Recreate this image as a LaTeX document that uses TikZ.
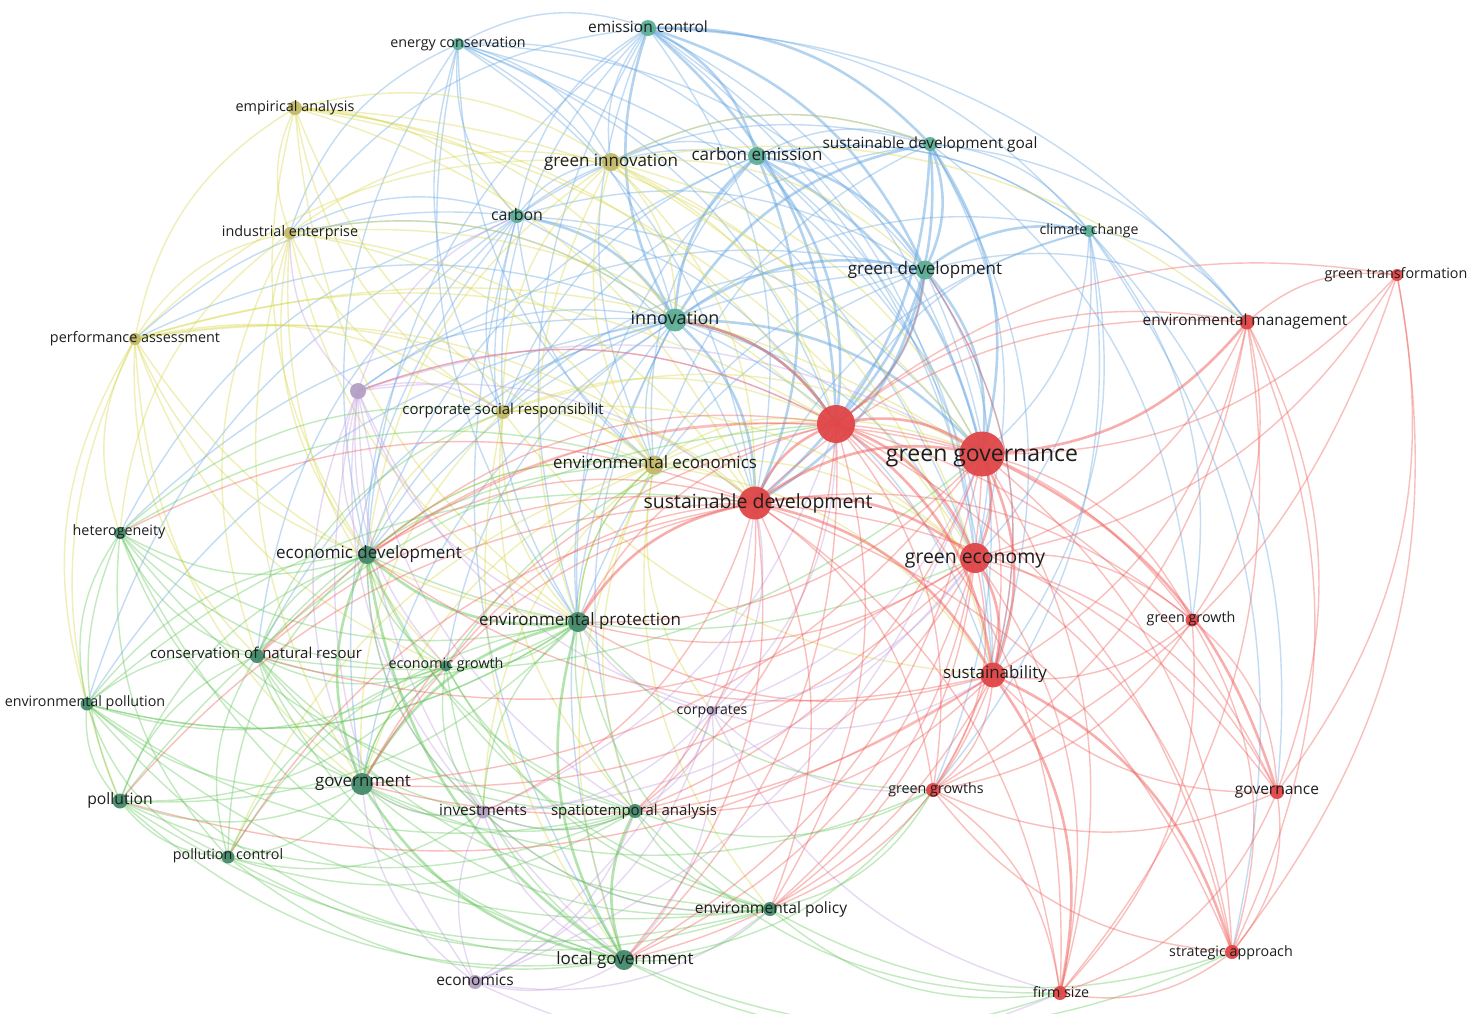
\documentclass[tikz,border=0pt]{standalone}
\usepackage{fontspec}
\setmainfont{Open Sans}
\usetikzlibrary{calc}
\pgfdeclarelayer{bg}
\pgfdeclarelayer{edges}
\pgfsetlayers{bg,edges,main}
\definecolor{nR}{RGB}{224,70,72}
\definecolor{nG}{RGB}{68,138,108}
\definecolor{nB}{RGB}{92,175,150}
\definecolor{nY}{RGB}{195,185,105}
\definecolor{nP}{RGB}{180,160,195}
\definecolor{cR}{RGB}{240,95,90}
\definecolor{cG}{RGB}{105,200,95}
\definecolor{cB}{RGB}{105,168,225}
\definecolor{cY}{RGB}{215,215,75}
\definecolor{cP}{RGB}{195,160,225}
\definecolor{txt}{RGB}{30,30,30}
\newcommand\vedge[3]{%
  \draw[#1] let \p1=(#2.center), \p2=(#3.center), \p3=(ctr),
    \n1={((\x2-\x1)/100)*(((\y1+\y2)/2-\y3)/100)-((\y2-\y1)/100)*(((\x1+\x2)/2-\x3)/100)},
    \n2={ifthenelse(\n1>0,24,-24)} in
    (\p1) to[bend left=\n2] (\p2);}
\begin{document}
\begin{tikzpicture}[x=1pt,y=-1pt,
  dot/.style={circle,inner sep=0pt,minimum size=#1,draw=none,fill opacity=0.95},
  lbl/.style={inner sep=0pt,text=txt,font=\fontsize{#1}{#1}\selectfont,anchor=base,yshift={-0.27*#1}},
  ethin/.style={line width=1.4pt,draw opacity=0.4,draw=#1},
  ethick/.style={line width=2.6pt,draw opacity=0.5,draw=#1}]
\begin{pgfonlayer}{bg}
\fill[white] (0,0) rectangle (1472,1013);
\end{pgfonlayer}
\useasboundingbox (0,0) rectangle (1472,1013);
\coordinate (ctr) at (740,520);
% ---- nodes (dots) ----
% blue cluster
\node[dot=16pt,fill=nB] (ec) at (648,28) {};
\node[dot=12pt,fill=nB] (encon) at (458,44) {};
\node[dot=18pt,fill=nB] (cem) at (757,156) {};
\node[dot=14pt,fill=nB] (sdg) at (930,144) {};
\node[dot=14pt,fill=nB] (carb) at (517,216) {};
\node[dot=12pt,fill=nB] (cc) at (1089,231) {};
\node[dot=19pt,fill=nB] (gd) at (925,270) {};
\node[dot=23pt,fill=nB] (inn) at (675,320) {};
% yellow cluster
\node[dot=14pt,fill=nY] (ea) at (295,108) {};
\node[dot=18pt,fill=nY] (gi) at (611,162) {};
\node[dot=12pt,fill=nY] (ie) at (290,233) {};
\node[dot=12pt,fill=nY] (pa) at (135,339) {};
\node[dot=14pt,fill=nY] (csr) at (503,412) {};
\node[dot=19pt,fill=nY] (ee) at (654,465) {};
% purple cluster
\node[dot=16pt,fill=nP] (pu) at (358,391) {};
\node[dot=13pt,fill=nP] (inv) at (483,812) {};
\node[dot=14pt,fill=nP] (econ) at (475,982) {};
\node[dot=10pt,fill=nP] (corp) at (712,711) {};
% green cluster
\node[dot=12pt,fill=nG] (het) at (120,533) {};
\node[dot=18pt,fill=nG] (edv) at (367,555) {};
\node[dot=14pt,fill=nG] (cnr) at (257,656) {};
\node[dot=11pt,fill=nG] (eg) at (446,666) {};
\node[dot=20pt,fill=nG] (ep) at (578,622) {};
\node[dot=13pt,fill=nG] (epol) at (87,704) {};
\node[dot=15pt,fill=nG] (pol) at (120,801) {};
\node[dot=22pt,fill=nG] (gov) at (362,784) {};
\node[dot=13pt,fill=nG] (pc) at (228,857) {};
\node[dot=14pt,fill=nG] (sta) at (635,811) {};
\node[dot=14pt,fill=nG] (epo) at (770,909) {};
\node[dot=20pt,fill=nG] (lg) at (624,960) {};
% red cluster
\node[dot=38pt,fill=nR] (r0) at (836,424) {};
\node[dot=45pt,fill=nR] (gg) at (982,454) {};
\node[dot=33pt,fill=nR] (sd) at (755,503) {};
\node[dot=30pt,fill=nR] (ge) at (975,558) {};
\node[dot=25pt,fill=nR] (sus) at (993,675) {};
\node[dot=13pt,fill=nR] (ggr) at (1192,620) {};
\node[dot=12pt,fill=nR] (gt) at (1397,275) {};
\node[dot=15pt,fill=nR] (em) at (1247,322) {};
\node[dot=14pt,fill=nR] (gvn) at (1277,792) {};
\node[dot=14pt,fill=nR] (ggs) at (933,790) {};
\node[dot=14pt,fill=nR] (sa) at (1232,952) {};
\node[dot=14pt,fill=nR] (fs) at (1060,993) {};
% ---- edges ----
\begin{pgfonlayer}{edges}
% blue
\foreach \aa/\bb in {ec/encon,ec/carb,ec/cc,ec/gi,ec/sd,ec/gg,ec/ep,ec/ee,ec/csr,ec/edv,ec/em,ec/ge,ec/sus,ec/ie,
  encon/carb,encon/inn,encon/cem,encon/gd,encon/sd,encon/r0,encon/ee,encon/csr,encon/ep,encon/gg,encon/gi,encon/edv,encon/ge,encon/ie,
  cem/carb,cem/gi,cem/sdg,cem/cc,cem/ep,cem/ee,cem/sus,cem/edv,cem/ge,cem/csr,
  sdg/cc,sdg/carb,sdg/gi,sdg/sus,sdg/em,sdg/ge,sdg/ee,sdg/ggr,sdg/csr,
  carb/gd,carb/r0,carb/sd,carb/gg,carb/ep,carb/edv,carb/ee,carb/csr,carb/cnr,carb/lg,carb/gov,carb/pa,carb/ie,carb/gi,carb/het,carb/epol,
  cc/inn,cc/r0,cc/gg,cc/ge,cc/sus,cc/sd,cc/em,cc/sa,cc/ggr,cc/gvn,cc/cem,cc/ggs,
  gd/ep,gd/ee,gd/em,gd/edv,gd/ggs,gd/sus,gd/ge,gd/csr,gd/pu,
  inn/ee,inn/ep,inn/csr,inn/edv,inn/gov,inn/lg,inn/sus,inn/pu,inn/eg,inn/sta,inn/cnr,inn/epol,inn/het,inn/ge,inn/pa,inn/ie}
  {\vedge{ethin=cB}{\aa}{\bb}}
\foreach \aa/\bb in {ec/cem,ec/sdg,ec/inn,ec/gd,ec/r0,cem/gd,cem/inn,cem/r0,cem/gg,cem/sd,
  sdg/gd,sdg/inn,sdg/r0,sdg/gg,sdg/sd,carb/inn,cc/gd,gd/inn,gd/r0,gd/gg,gd/sd,inn/r0,inn/gg,inn/sd}
  {\vedge{ethick=cB}{\aa}{\bb}}
% yellow
\foreach \aa/\bb in {ea/gi,ea/ie,ea/pa,ea/csr,ea/ee,ea/r0,ea/sd,ea/gg,ea/inn,ea/carb,ea/edv,ea/ep,ea/ge,
  gi/inn,gi/r0,gi/sd,gi/gg,gi/ee,gi/csr,gi/ie,gi/ge,gi/ep,gi/edv,gi/gd,gi/em,gi/sdg,gi/pa,gi/sus,
  ie/pa,ie/csr,ie/ee,ie/sd,ie/r0,ie/gov,ie/edv,ie/cnr,ie/ep,ie/inn,ie/het,ie/eg,
  pa/csr,pa/ee,pa/het,pa/epol,pa/pol,pa/sd,pa/r0,pa/edv,pa/gg,pa/cnr,pa/gov,pa/eg,pa/ep,
  csr/ee,csr/r0,csr/sd,csr/gg,csr/ep,csr/edv,csr/ge,csr/sus,csr/gov,csr/lg,csr/sta,
  ee/r0,ee/sd,ee/gg,ee/ge,ee/sus,ee/ep,ee/edv,ee/gov,ee/lg,ee/sta,ee/corp,ee/epo,ee/inv,ee/pc}
  {\vedge{ethin=cY}{\aa}{\bb}}
% purple
\foreach \aa/\bb in {pu/csr,pu/r0,pu/gg,pu/sd,pu/edv,pu/gov,pu/inv,pu/econ,pu/corp,pu/eg,pu/carb,pu/ie,pu/ep,pu/lg,pu/sta,
  inv/econ,inv/corp,inv/gov,inv/r0,inv/lg,inv/sta,inv/edv,inv/ge,inv/epo,
  econ/lg,econ/corp,econ/sd,econ/gg,econ/gov,econ/sta,econ/fs,econ/epo,
  corp/sd,corp/r0,corp/gg,corp/ge,corp/sus,corp/ep,corp/lg,corp/sta,corp/ggs,corp/fs}
  {\vedge{ethin=cP}{\aa}{\bb}}
% green
\foreach \aa/\bb in {het/edv,het/cnr,het/epol,het/pol,het/gov,het/pc,het/ep,het/lg,het/eg,het/sta,het/ee,het/csr,
  edv/cnr,edv/eg,edv/pol,edv/epol,edv/pc,edv/sta,edv/ge,edv/inv,edv/epo,edv/ee,
  cnr/epol,cnr/pol,cnr/pc,cnr/gov,cnr/ep,cnr/eg,cnr/lg,cnr/sta,cnr/gg,cnr/inv,cnr/epo,cnr/ee,cnr/csr,
  eg/ep,eg/gov,eg/lg,eg/sta,eg/pc,eg/pol,eg/r0,eg/epol,eg/epo,eg/inv,
  ep/sta,ep/epo,ep/pol,ep/pc,ep/epol,ep/ggs,ep/inv,ep/ee,
  epol/pol,epol/pc,epol/gov,epol/lg,epol/ep,epol/sd,epol/sta,epol/epo,
  pol/pc,pol/gov,pol/lg,pol/sta,pol/r0,pol/epo,
  gov/pc,gov/sta,gov/inv,gov/epo,gov/eg,gov/ggs,
  pc/lg,pc/sta,pc/epo,pc/inv,
  sta/epo,sta/inv,sta/ggs,sta/fs,
  epo/lg,epo/fs,epo/inv,epo/ggs,epo/sa,
  lg/fs,lg/sa,lg/ggs}
  {\vedge{ethin=cG}{\aa}{\bb}}
\foreach \aa/\bb in {edv/ep,edv/gov,edv/lg,ep/gov,ep/lg,gov/lg,sta/lg}
  {\vedge{ethick=cG}{\aa}{\bb}}
% red
\foreach \aa/\bb in {r0/em,r0/ggr,r0/ggs,r0/gvn,r0/fs,r0/sa,r0/gt,r0/gd,r0/pu,
  r0/gov,r0/ep,r0/edv,r0/lg,r0/sta,r0/epo,r0/cnr,
  gg/ggr,gg/ggs,gg/fs,gg/sa,gg/gt,gg/ep,gg/gov,gg/lg,gg/edv,gg/epo,gg/sta,
  sd/ggs,sd/gvn,sd/fs,sd/sa,sd/em,sd/ggr,sd/gov,sd/lg,sd/edv,sd/pc,sd/epo,sd/sta,sd/cnr,sd/pol,sd/het,sd/eg,sd/inv,
  ge/ggr,ge/gvn,ge/ggs,ge/fs,ge/sa,ge/em,ge/gt,ge/ep,ge/gov,ge/lg,ge/epo,ge/sta,ge/cnr,
  sus/ggr,sus/gvn,sus/ggs,sus/em,sus/ep,sus/lg,sus/epo,sus/sta,sus/gov,sus/gd,sus/edv,sus/pol,
  ggr/em,ggr/gvn,ggr/ggs,ggr/fs,ggr/sa,em/gt,em/gvn,em/ggs,em/sa,em/fs,gvn/sa,gvn/fs,ggs/fs,ggs/sa,ggs/gvn,sa/fs,gt/sa,gt/ggs,gt/gvn}
  {\vedge{ethin=cR}{\aa}{\bb}}
\foreach \aa/\bb in {r0/gg,r0/sd,r0/ge,r0/sus,gg/sd,gg/ge,gg/sus,sd/ge,sd/sus,ge/sus,gg/em,sus/fs,sus/sa,gg/gvn,r0/inn,sd/ep}
  {\vedge{ethick=cR}{\aa}{\bb}}
\end{pgfonlayer}
% ---- labels ----
\node[lbl=15.5] (ec-l) at (ec) {emission control};
\node[lbl=14.3] (encon-l) at (encon) {energy conservation};
\node[lbl=17] (cem-l) at (cem) {carbon emission};
\node[lbl=15.4] (sdg-l) at (sdg) {sustainable development goal};
\node[lbl=15.9] (carb-l) at (carb) {carbon};
\node[lbl=14.1] (cc-l) at (cc) {climate change};
\node[lbl=17] (gd-l) at (gd) {green development};
\node[lbl=18] (inn-l) at (inn) {innovation};
\node[lbl=14.4] (ea-l) at (ea) {empirical analysis};
\node[lbl=17] (gi-l) at (gi) {green innovation};
\node[lbl=14.4] (ie-l) at (ie) {industrial enterprise};
\node[lbl=14.4] (pa-l) at (pa) {performance assessment};
\node[lbl=15] (csr-l) at (503,410) {corporate social responsibilit};
\node[lbl=16.9] (ee-l) at (655,464) {environmental economics};
\node[lbl=15.4] (inv-l) at (483,811) {investments};
\node[lbl=15.5] (econ-l) at (475,981) {economics};
\node[lbl=14] (corp-l) at (corp) {corporates};
\node[lbl=14.3] (het-l) at (119,532) {heterogeneity};
\node[lbl=17] (edv-l) at (369,554) {economic development};
\node[lbl=15] (cnr-l) at (256,654) {conservation of natural resour};
\node[lbl=14.3] (eg-l) at (446,665) {economic growth};
\node[lbl=17] (ep-l) at (580,621) {environmental protection};
\node[lbl=14.3] (epol-l) at (85,703) {environmental pollution};
\node[lbl=15.7] (pol-l) at (120,800) {pollution};
\node[lbl=16.9] (gov-l) at (363,782) {government};
\node[lbl=14.3] (pc-l) at (228,856) {pollution control};
\node[lbl=15] (sta-l) at (634,811) {spatiotemporal analysis};
\node[lbl=15.6] (epo-l) at (771,909) {environmental policy};
\node[lbl=17] (lg-l) at (625,960) {local government};
\node[lbl=23] (gg-l) at (982,455) {green governance};
\node[lbl=19.5] (sd-l) at (758,503) {sustainable development};
\node[lbl=19.4] (ge-l) at (975,558) {green economy};
\node[lbl=16.9] (sus-l) at (995,674) {sustainability};
\node[lbl=14.3] (ggr-l) at (1191,619) {green growth};
\node[lbl=14.3] (gt-l) at (1396,275) {green transformation};
\node[lbl=15.4] (em-l) at (1245,321) {environmental management};
\node[lbl=15.5] (gvn-l) at (1277,790) {governance};
\node[lbl=14.3] (ggs-l) at (936,790) {green growths};
\node[lbl=14.3] (sa-l) at (1231,953) {strategic approach};
\node[lbl=14.3] (fs-l) at (1061,994) {firm size};
\end{tikzpicture}
\end{document}
